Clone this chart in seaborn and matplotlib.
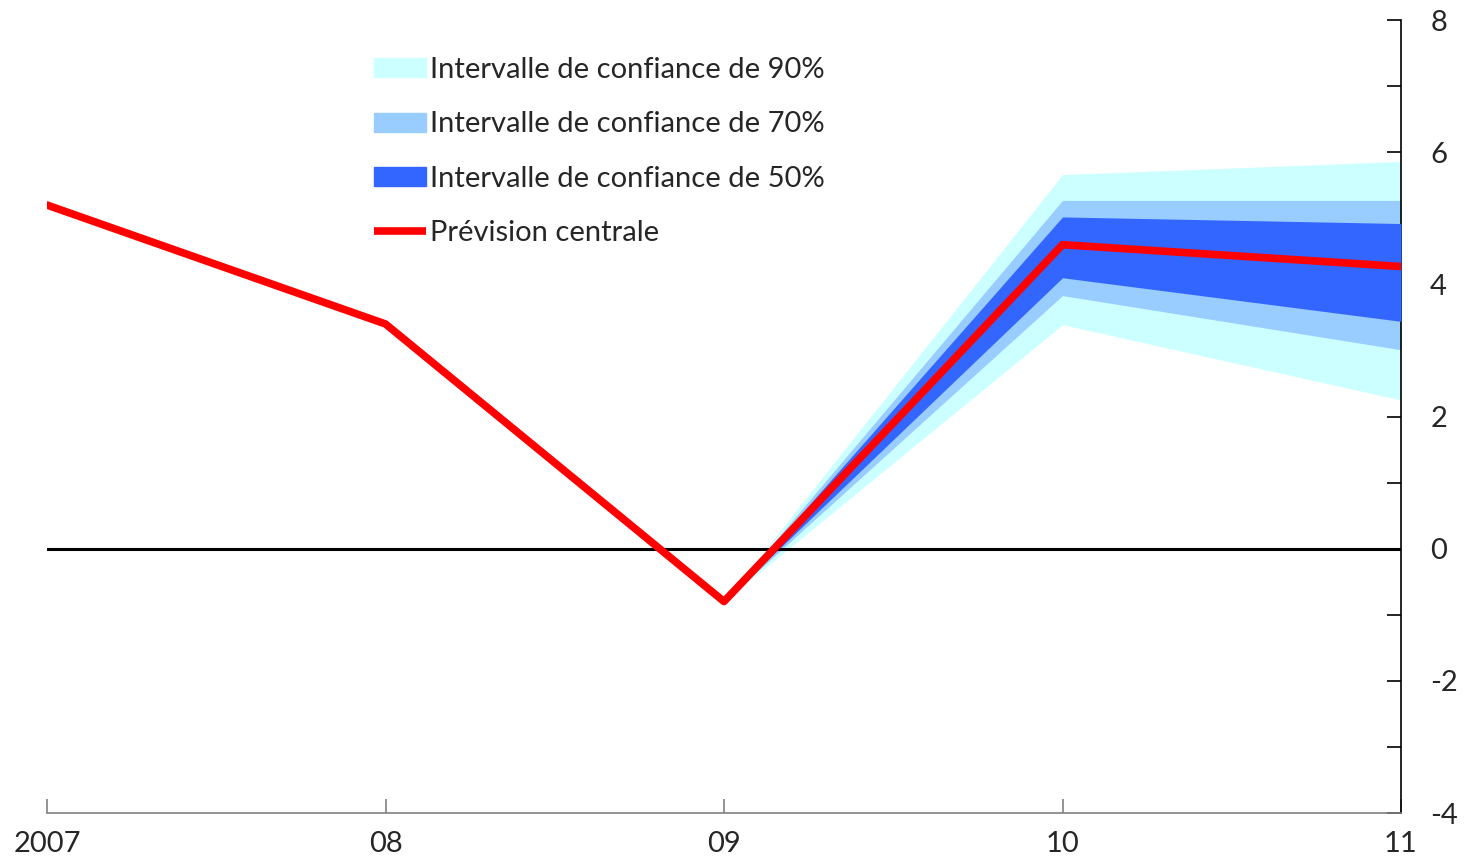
import matplotlib
matplotlib.use("Agg")
import matplotlib.pyplot as plt
import matplotlib.patches as mpatches
from matplotlib.lines import Line2D
import seaborn as sns
import pandas as pd
import numpy as np

# données
annees = [2007, 2008, 2009, 2010, 2011]
prevision = [5.2, 3.4, -0.8, 4.6, 4.27]

annees_fan = [2009, 2010, 2011]
bas_90 = [-0.8, 3.39, 2.25]
haut_90 = [-0.8, 5.66, 5.86]
bas_70 = [-0.8, 3.83, 3.01]
haut_70 = [-0.8, 5.27, 5.27]
bas_50 = [-0.8, 4.10, 3.44]
haut_50 = [-0.8, 5.02, 4.92]

etiquettes_x = ["2007", "08", "09", "10", "11"]

couleurs = {"90": "#CCFFFF", "70": "#99CCFF", "50": "#3366FF", "ligne": "#FF0000"}

sns.set_style("white")
plt.rcParams['font.family'] = ['Lato', 'DejaVu Sans']

df = pd.DataFrame({"annee": annees, "prevision": prevision})

fig = plt.figure(figsize=(14.64, 8.59), dpi=100)
ax = fig.add_axes([47 / 1464, 1 - 813 / 859, (1401 - 47) / 1464, (813 - 20) / 859])

ax.fill_between(annees_fan, bas_90, haut_90, color=couleurs["90"], lw=0, zorder=1)
ax.fill_between(annees_fan, bas_70, haut_70, color=couleurs["70"], lw=0, zorder=2)
ax.fill_between(annees_fan, bas_50, haut_50, color=couleurs["50"], lw=0, zorder=3)
ax.axhline(0, color="black", lw=2.2, zorder=4)
sns.lineplot(data=df, x="annee", y="prevision", color=couleurs["ligne"], lw=5.5, ax=ax, zorder=5)

ax.set_xlim(2007, 2011)
ax.set_ylim(-4, 8)
ax.set_xlabel("")
ax.set_ylabel("")

ax.set_xticks(annees)
ax.set_xticklabels(etiquettes_x)
ax.yaxis.tick_right()
ax.set_yticks(range(-4, 9, 2))
ax.set_yticks(range(-3, 8, 2), minor=True)
ax.set_yticklabels([str(v) for v in range(-4, 9, 2)])

for s in ["top", "left"]:
    ax.spines[s].set_visible(False)
ax.spines["right"].set_color("black")
ax.spines["right"].set_linewidth(1.2)
ax.spines["bottom"].set_color("#808080")
ax.spines["bottom"].set_linewidth(1.2)

ax.tick_params(axis="y", which="both", direction="in", length=10, width=1.2, color="black",
               labelsize=21, pad=21, right=True, left=False)
for lab in ax.get_yticklabels():
    lab.set_horizontalalignment("left")
ax.tick_params(axis="x", direction="in", length=10, width=1.2, color="#808080",
               labelsize=21, pad=13, bottom=True)

handles = [
    mpatches.Patch(color=couleurs["90"], label="Intervalle de confiance de 90%"),
    mpatches.Patch(color=couleurs["70"], label="Intervalle de confiance de 70%"),
    mpatches.Patch(color=couleurs["50"], label="Intervalle de confiance de 50%"),
    Line2D([], [], color=couleurs["ligne"], lw=5.5, solid_capstyle="butt", label="Prévision centrale"),
]
ax.legend(handles=handles, loc="upper left", bbox_to_anchor=(0.2326, 0.968), frameon=False,
          fontsize=21, handlelength=1.78, handleheight=0.62, handletextpad=0.17, labelspacing=0.97,
          borderaxespad=0)

fig.savefig("out.png", dpi=100)
